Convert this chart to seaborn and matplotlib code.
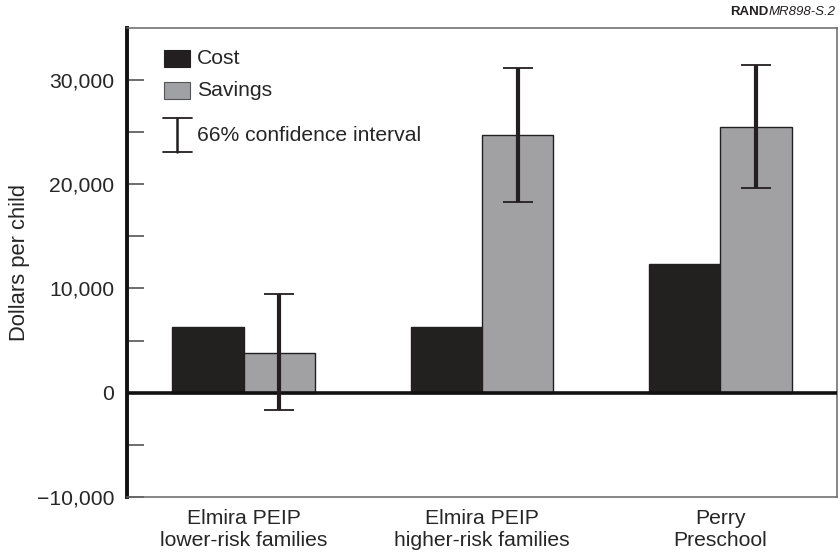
import matplotlib
matplotlib.use("Agg")
import matplotlib.pyplot as plt
import seaborn as sns
import pandas as pd
import numpy as np
from matplotlib.patches import Rectangle
from matplotlib.lines import Line2D

categories = ["Elmira PEIP\nlower-risk families", "Elmira PEIP\nhigher-risk families", "Perry\nPreschool"]
cost = [6340, 6340, 12320]
savings = [3760, 24720, 25480]
ci_low = [-1690, 18310, 19650]
ci_high = [9470, 31130, 31390]
series = ["Cost", "Savings"]
colors = ["#231f20", "#a0a1a5"]
ytick_vals = [-10000, -5000, 0, 5000, 10000, 15000, 20000, 25000, 30000]
ytick_labels = ["\u221210,000", "", "0", "", "10,000", "", "20,000", "", "30,000"]

sns.set_theme(style="white")
plt.rcParams["font.family"] = ["Liberation Sans", "DejaVu Sans"]

df = pd.DataFrame({
    "category": categories * 2,
    "series": ["Cost"] * 3 + ["Savings"] * 3,
    "value": cost + savings,
})

FS = 15.2
fig = plt.figure(figsize=(8.4, 5.59), dpi=100)
ax = fig.add_axes([127 / 840, 1 - 497 / 559, (837 - 127) / 840, (497 - 27.5) / 559])

sns.barplot(data=df, x="category", y="value", hue="series", hue_order=series,
            palette=colors, width=0.6, errorbar=None, ax=ax,
            edgecolor="#231f20", linewidth=1.0, legend=False, zorder=2)

# error bars on savings bars
sav_x = [p.get_x() + p.get_width() / 2 for p in ax.containers[1]]
sav = np.array(savings)
yerr = np.vstack([sav - np.array(ci_low), np.array(ci_high) - sav])
ax.errorbar(sav_x, sav, yerr=yerr, fmt="none", ecolor="#231f20",
            elinewidth=3.0, capsize=10.5, capthick=1.3, zorder=4)

ax.axhline(0, color="#111111", lw=2.6, zorder=3)

ax.set_xlim(-0.49, 2.49)
ax.set_ylim(-10000, 35000)
ax.set_yticks(ytick_vals)
ax.set_yticklabels(ytick_labels)
ax.set_xlabel("")
ax.set_ylabel("Dollars per child", fontsize=FS + 0.6, labelpad=5)

ax.tick_params(axis="y", direction="in", length=12, width=1.2, color="#555555",
               labelsize=FS, pad=9, left=True)
ax.tick_params(axis="x", length=0, labelsize=FS, pad=9)
for lab in ax.get_xticklabels():
    lab.set_linespacing(1.2)

for s in ["top", "right", "bottom"]:
    ax.spines[s].set_visible(True)
    ax.spines[s].set_color("#666666")
    ax.spines[s].set_linewidth(1.1)
ax.spines["left"].set_color("#111111")
ax.spines["left"].set_linewidth(2.8)

# legend drawn in axes coordinates
tr = ax.transAxes
ax.add_patch(Rectangle((0.0520, 0.9165), 0.0367, 0.0349, transform=tr,
                       facecolor=colors[0], edgecolor="#231f20", lw=0.8, zorder=5))
ax.add_patch(Rectangle((0.0520, 0.848), 0.0367, 0.0349, transform=tr,
                       facecolor=colors[1], edgecolor="#555555", lw=0.8, zorder=5))
ax.text(0.0985, 0.934, "Cost", transform=tr, fontsize=FS, va="center", ha="left")
ax.text(0.0985, 0.865, "Savings", transform=tr, fontsize=FS, va="center", ha="left")
ax.add_line(Line2D([0.0705, 0.0705], [0.734, 0.807], transform=tr, color="#231f20", lw=1.8))
ax.add_line(Line2D([0.051, 0.091], [0.807, 0.807], transform=tr, color="#231f20", lw=1.3))
ax.add_line(Line2D([0.051, 0.091], [0.734, 0.734], transform=tr, color="#231f20", lw=1.3))
ax.text(0.0985, 0.770, "66% confidence interval", transform=tr, fontsize=FS,
        va="center", ha="left")

t2 = fig.text(0.995, 1 - 12 / 559, "MR898-S.2", fontsize=9.5, fontstyle="italic",
              ha="right", va="center", color="#231f20")
fig.canvas.draw()
bb = t2.get_window_extent()
fig.text(bb.x0 / fig.bbox.width, 1 - 12 / 559, "RAND", fontsize=9.5, fontweight="bold",
         ha="right", va="center", color="#231f20")

fig.savefig("out.png", dpi=100)
